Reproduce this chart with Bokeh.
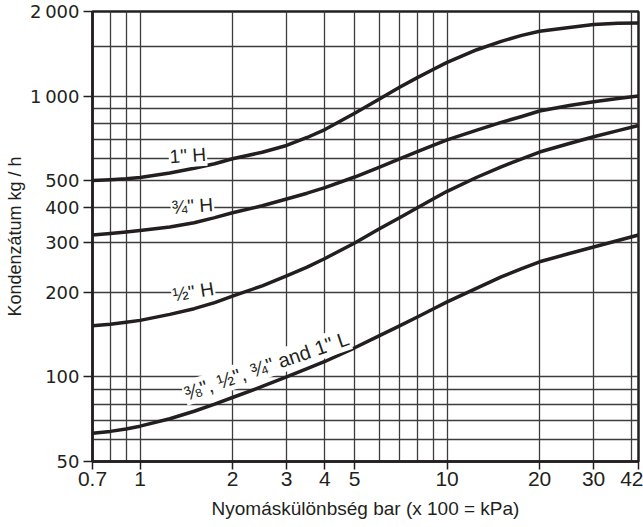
from bokeh.plotting import figure
from bokeh.models import FixedTicker, Label
from bokeh.embed import file_html
from bokeh.resources import INLINE

# pressure difference (bar)
x_bar = [0.7, 0.8, 0.9, 1, 1.25, 1.5, 1.75, 2, 2.5, 3, 3.5, 4, 5, 6, 7, 8, 9, 10,
         12.5, 15, 17.5, 20, 25, 30, 36, 42]
# condensate capacity (kg/h)
h_1in = [500, 504, 508, 513, 532, 553, 574, 598, 631, 667, 712, 760, 869, 975, 1074, 1163, 1243, 1318,
         1462, 1566, 1645, 1702, 1755, 1798, 1815, 1820]
h_3_4in = [320, 324, 328, 332, 342, 354, 369, 384, 407, 430, 451, 472, 515, 557, 597, 634, 667, 698,
           756, 806, 846, 885, 925, 955, 980, 1000]
h_1_2in = [152, 154, 156.5, 159, 167, 175, 184, 194, 211, 229, 246, 264, 300, 336, 369, 400, 430, 458,
           514, 560, 598, 632, 678, 716, 753, 786]
low_all = [63, 64, 65.3, 66.8, 71, 75.5, 80, 84.5, 92.5, 100, 107, 113.5, 127, 140, 152, 163.5, 174.5, 185,
           207, 227, 243, 257, 275, 290, 306, 320]

x_ticks = [0.7, 1, 2, 3, 4, 5, 10, 20, 30, 42]
x_tick_labels = ["0.7", "1", "2", "3", "4", "5", "10", "20", "30", "42"]
y_ticks = [50, 100, 200, 300, 400, 500, 1000, 2000]
y_tick_labels = ["50", "100", "200", "300", "400", "500", "1\u2009000", "2\u2009000"]
grid_x = [0.8, 0.9, 1, 2, 3, 4, 5, 6, 7, 8, 9, 10, 20, 30, 40]
grid_y = [60, 70, 80, 90, 100, 200, 300, 400, 500, 600, 700, 800, 900, 1000, 1500]

curve_labels = ['1" H', '\u00be" H', '\u00bd" H', '\u215c", \u00bd", \u00be" and 1" L']

INK = "#231f20"
FONT = "Liberation Sans"

p = figure(width=643, height=527, x_axis_type="log", y_axis_type="log",
           x_range=(0.7, 42), y_range=(50, 2000),
           output_backend="svg", toolbar_location=None,
           min_border_left=92, min_border_right=5, min_border_top=11, min_border_bottom=66)

p.outline_line_color = INK
p.outline_line_width = 2.5
p.background_fill_color = "white"

# grids
p.xgrid.ticker = FixedTicker(ticks=grid_x, minor_ticks=[])
p.ygrid.ticker = FixedTicker(ticks=grid_y, minor_ticks=[])
for g in (p.xgrid, p.ygrid):
    g.grid_line_color = "#3c3c3c"
    g.grid_line_width = 1.3

# axes
p.xaxis.ticker = FixedTicker(ticks=x_ticks, minor_ticks=[])
p.yaxis.ticker = FixedTicker(ticks=y_ticks, minor_ticks=[])
p.xaxis.major_label_overrides = {t: s for t, s in zip(x_ticks, x_tick_labels)}
p.yaxis.major_label_overrides = {t: s for t, s in zip(y_ticks, y_tick_labels)}

for ax in (p.xaxis, p.yaxis):
    ax.axis_line_color = INK
    ax.axis_line_width = 2.5
    ax.major_tick_line_color = INK
    ax.major_tick_line_width = 1.5
    ax.major_tick_in = 0
    ax.minor_tick_line_color = None
    ax.major_label_text_color = INK
    ax.axis_label_text_color = INK
    ax.axis_label_text_font = FONT
    ax.axis_label_text_font_style = "normal"

p.xaxis.major_tick_out = 8
p.xaxis.major_label_standoff = 2
p.xaxis.major_label_text_font = FONT
p.xaxis.major_label_text_font_size = "21px"
p.xaxis.axis_label = "Nyomáskülönbség bar (x 100 = kPa)"
p.xaxis.axis_label_text_font_size = "19px"
p.xaxis.axis_label_standoff = 9

p.yaxis.major_tick_out = 9
p.yaxis.major_label_standoff = 4
p.yaxis.major_label_text_font = "DejaVu Sans"
p.yaxis.major_label_text_font_size = "18px"
p.yaxis.axis_label = "Kondenzátum kg / h"
p.yaxis.axis_label_text_font_size = "18px"
p.yaxis.axis_label_standoff = 2

for ys in (h_1in, h_3_4in, h_1_2in, low_all):
    p.line(x_bar, ys, line_width=3.5, line_color=INK, line_join="round")

label_specs = [
    (curve_labels[0], 1.43, 614, 4, "19px"),
    (curve_labels[1], 1.48, 406, 4, "19px"),
    (curve_labels[2], 1.49, 201, 9, "19px"),
    (curve_labels[3], 2.58, 109.5, 19, "20px"),
]
for txt, lx, ly, ang, fs in label_specs:
    p.add_layout(Label(x=lx, y=ly, text=txt, angle=ang, angle_units="deg",
                       text_align="center", text_baseline="middle",
                       text_font=FONT, text_font_size=fs, text_color=INK,
                       background_fill_color="white", padding=1))

open("out.html", "w").write(file_html(p, INLINE))
